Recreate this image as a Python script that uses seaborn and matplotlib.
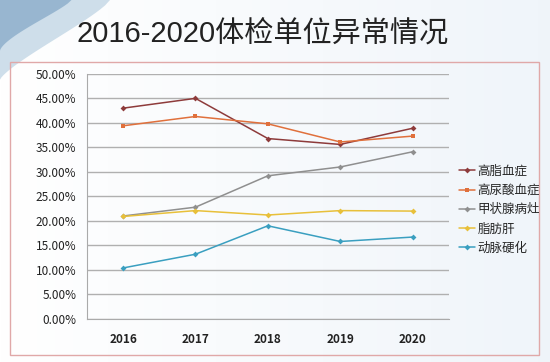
import numpy as np
import pandas as pd
import matplotlib
matplotlib.use("Agg")
import matplotlib.pyplot as plt
from matplotlib.patches import Rectangle, Polygon
from matplotlib.ticker import FixedLocator, PercentFormatter
import seaborn as sns

# data
years = [2016, 2017, 2018, 2019, 2020]
gaozhi = [0.430, 0.450, 0.368, 0.356, 0.389]
niaosuan = [0.394, 0.413, 0.398, 0.361, 0.373]
jiazhuang = [0.210, 0.228, 0.292, 0.310, 0.341]
zhifanggan = [0.209, 0.221, 0.212, 0.221, 0.220]
dongmai = [0.104, 0.132, 0.190, 0.158, 0.167]
names = ["高脂血症", "高尿酸血症", "甲状腺病灶", "脂肪肝", "动脉硬化"]
colors = ["#8e3b3b", "#e0703c", "#8f8f8f", "#e8c03a", "#3a9fc0"]
markers = ["D", "s", "D", "D", "D"]

df = pd.DataFrame({"year": years * 5,
                   "rate": gaozhi + niaosuan + jiazhuang + zhifanggan + dongmai,
                   "name": [n for n in names for _ in years]})

sns.set_style("white")
plt.rcParams['font.family'] = ['Noto Sans CJK SC', 'DejaVu Sans']

fig = plt.figure(figsize=(5.5, 3.62), dpi=100)

# background gradient + swoosh
bg = fig.add_axes([0, 0, 1, 1], zorder=-5)
grad = np.linspace(0, 1, 256)
img = np.ones((64, 256, 3))
img[..., 0] = 1.0 - 0.06 * grad
img[..., 1] = 1.0 - 0.04 * grad
img[..., 2] = 1.0 - 0.02 * grad
bg.imshow(img, extent=[0, 1, 0, 1], aspect="auto")
t = np.linspace(0, 1, 30)
outer = np.column_stack([0.2 * (1 - t) ** 1.3, 1 - 0.22 * t ** 0.8])
bg.add_patch(Polygon(np.vstack([[[0, 1]], outer]), closed=True,
                     color="#c9dbe8", alpha=0.9, lw=0))
inner = np.column_stack([0.13 * (1 - t) ** 1.5, 1 - 0.14 * t ** 0.8])
bg.add_patch(Polygon(np.vstack([[[0, 1]], inner]), closed=True,
                     color="#8fb0cc", alpha=0.85, lw=0))
bg.add_patch(Rectangle((0.018, 0.018), 0.962, 0.81, fill=False,
                       edgecolor="#e0a8a8", lw=1.0))
bg.set_xlim(0, 1)
bg.set_ylim(0, 1)
bg.axis("off")

fig.text(0.477, 0.905, "2016-2020体检单位异常情况", ha="center", va="center",
         fontsize=21, color="#222222", family=['Liberation Sans', 'Noto Sans CJK SC'])

ax = fig.add_axes([0.158, 0.119, 0.658, 0.677])
ax.patch.set_alpha(0)
sns.lineplot(data=df, x="year", y="rate", hue="name", hue_order=names,
             palette=colors, style="name", markers=markers, dashes=False,
             markersize=3, markeredgewidth=0, linewidth=1.1, ax=ax)

ax.set_ylim(0, 0.5)
ax.set_xlim(2015.5, 2020.5)
ax.set_yticks(np.arange(0, 0.51, 0.05))
ax.yaxis.set_major_formatter(PercentFormatter(1.0, decimals=2))
ax.xaxis.set_major_locator(FixedLocator(np.arange(2015.5, 2021, 1)))
ax.xaxis.set_minor_locator(FixedLocator(years))
ax.set_xticklabels([])
ax.set_xticklabels([str(y) for y in years], minor=True)
ax.tick_params(axis="x", which="major", length=5, color="#999999", direction="out")
ax.tick_params(axis="x", which="minor", length=0, pad=10, labelsize=8.5, labelcolor="#222222")
ax.tick_params(axis="y", length=4, color="#999999", labelsize=8.5, labelcolor="#222222")
for lab in ax.get_xticklabels(minor=True):
    lab.set_fontweight("bold")
ax.grid(axis="y", color="#b0b0b0", lw=1)
for s in ["top", "right"]:
    ax.spines[s].set_visible(False)
for s in ["left", "bottom"]:
    ax.spines[s].set_color("#aaaaaa")
ax.set_xlabel("")
ax.set_ylabel("")

ax.legend(loc="center left", bbox_to_anchor=(1.0, 0.445), frameon=False,
          fontsize=9, handlelength=1.3, handletextpad=0.2, labelspacing=0.5,
          borderaxespad=0.4)

fig.savefig("out.png", dpi=100)
